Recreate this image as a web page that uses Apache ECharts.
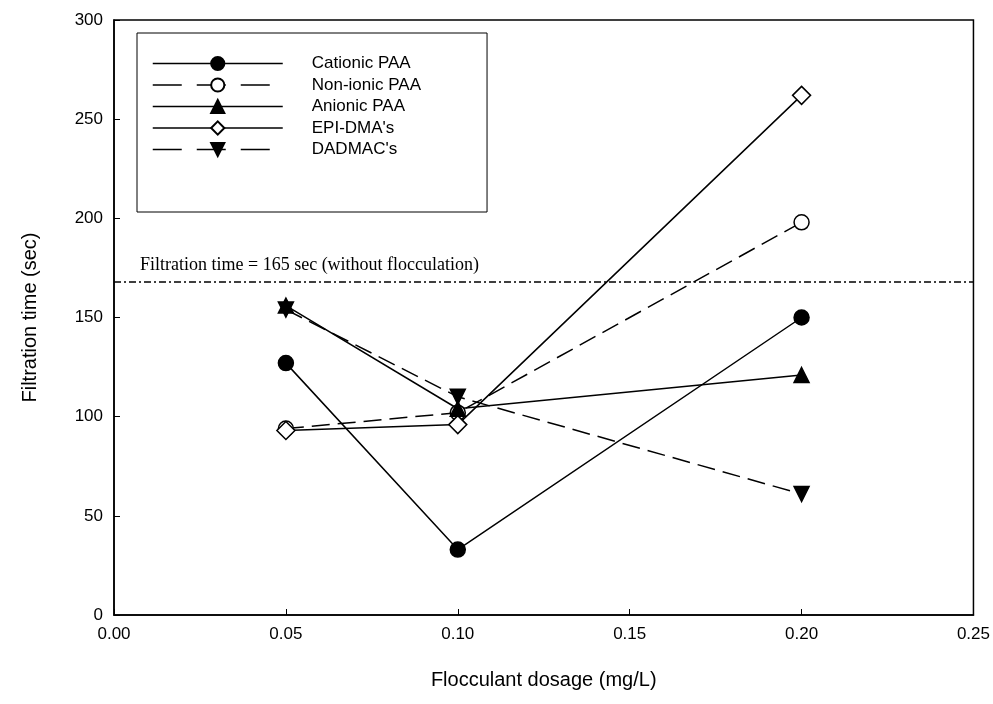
<!DOCTYPE html>
<html>
<head>
<meta charset="utf-8">
<script src="https://cdn.jsdelivr.net/npm/echarts@6/dist/echarts.min.js"></script>
<style>
html,body{margin:0;padding:0;background:#fff;}
#chart{width:993px;height:704px;}
</style>
</head>
<body>
<div id="chart"></div>
<script>
// ---- data ----
const dosage = [0.05, 0.10, 0.20];
const cationic = [127, 33, 150];
const nonionic = [94, 102, 198];
const anionic = [156, 104, 121];
const epiDma = [93, 96, 262];
const dadmac = [154, 110, 61];
const seriesNames = ["Cationic PAA", "Non-ionic PAA", "Anionic PAA", "EPI-DMA's", "DADMAC's"];
const refValue = 168;
const refLabel = "Filtration time = 165 sec (without flocculation)";
const xTicks = [0, 0.05, 0.10, 0.15, 0.20, 0.25];
const yTicks = [0, 50, 100, 150, 200, 250, 300];

const pairs = arr => dosage.map((d, i) => [d, arr[i]]);
const FONT = "Liberation Sans, Arial, sans-serif";
const dash = [18, 8];
const legendDash = [29, 15];
const dashedFlags = [false, true, false, false, true];

function mkSeries(name, arr, symbol, filled, dashed, rotate) {
  return {
    name: name,
    type: 'line',
    data: pairs(arr),
    symbol: symbol,
    symbolSize: 15,
    symbolRotate: rotate || 0,
    showAllSymbol: true,
    lineStyle: { color: '#000', width: 1.5, type: dashed ? dash : 'solid' },
    itemStyle: { color: filled ? '#000' : '#fff', borderColor: '#000', borderWidth: 1.5 },
    emphasis: { disabled: true },
    z: 3
  };
}

const series = [
  mkSeries(seriesNames[0], cationic, 'circle', true, dashedFlags[0]),
  mkSeries(seriesNames[1], nonionic, 'circle', false, dashedFlags[1]),
  mkSeries(seriesNames[2], anionic, 'triangle', true, dashedFlags[2]),
  mkSeries(seriesNames[3], epiDma, 'diamond', false, dashedFlags[3]),
  mkSeries(seriesNames[4], dadmac, 'triangle', true, dashedFlags[4], 180)
];
series[3].symbolSize = [18, 18];
series[0].markLine = {
  silent: true,
  symbol: 'none',
  lineStyle: { color: '#000', width: 1.5, type: [7, 3, 2, 3] },
  label: {
    show: true,
    position: 'insideStartTop',
    formatter: refLabel,
    fontFamily: 'Liberation Serif, Times New Roman, serif',
    fontSize: 18,
    color: '#000',
    distance: [26, 8]
  },
  data: [{ yAxis: refValue }]
};

const legendData = seriesNames.map((n, i) => ({
  name: n,
  lineStyle: { type: dashedFlags[i] ? legendDash : 'solid', width: 1.5, color: '#000' }
}));

const chart = echarts.init(document.getElementById('chart'));
chart.setOption({
  animation: false,
  backgroundColor: '#fff',
  grid: {
    left: 114, right: 18, top: 20, bottom: 89,
    show: true, borderColor: '#000', borderWidth: 1.5, backgroundColor: 'transparent'
  },
  legend: {
    orient: 'vertical',
    left: 137, top: 33,
    padding: [22, 66, 54, 15],
    backgroundColor: '#fff',
    borderColor: '#000',
    borderWidth: 1,
    itemWidth: 130,
    itemHeight: 16.5,
    itemGap: 4.5,
    data: legendData,
    textStyle: { fontFamily: FONT, fontSize: 17, lineHeight: 16, color: '#000', padding: [0, 0, 0, 24] },
    selectedMode: false
  },
  xAxis: {
    type: 'value',
    min: xTicks[0], max: xTicks[xTicks.length - 1], interval: 0.05,
    name: 'Flocculant dosage (mg/L)',
    nameLocation: 'middle', nameGap: 55,
    nameTextStyle: { fontFamily: FONT, fontSize: 20, color: '#000' },
    axisLine: { lineStyle: { color: '#000', width: 1.5 } },
    axisTick: { inside: true, length: 6, lineStyle: { color: '#000', width: 1 } },
    axisLabel: { fontFamily: FONT, fontSize: 17, color: '#000', margin: 11, formatter: v => v.toFixed(2) },
    splitLine: { show: false }
  },
  yAxis: {
    type: 'value',
    min: yTicks[0], max: yTicks[yTicks.length - 1], interval: 50,
    name: 'Filtration time (sec)',
    nameLocation: 'middle', nameGap: 74,
    nameTextStyle: { fontFamily: FONT, fontSize: 20, color: '#000' },
    axisLine: { lineStyle: { color: '#000', width: 1.5 } },
    axisTick: { inside: true, length: 6, lineStyle: { color: '#000', width: 1 } },
    axisLabel: { fontFamily: FONT, fontSize: 17, color: '#000', margin: 11 },
    splitLine: { show: false }
  },
  series: series
});
</script>
</body>
</html>
